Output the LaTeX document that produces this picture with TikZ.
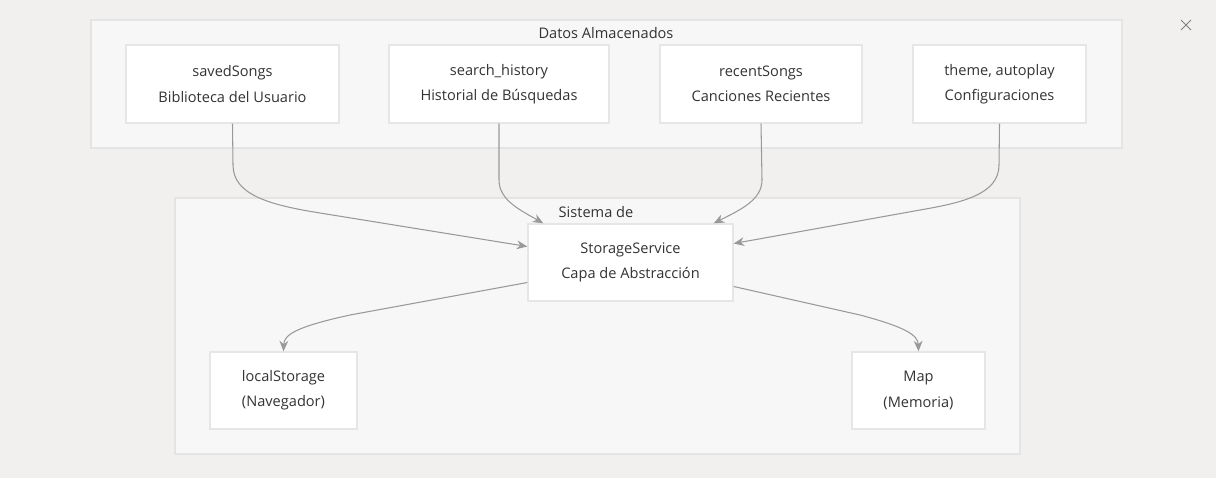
\documentclass[tikz,border=0pt]{standalone}
\usepackage{fontspec}
\setmainfont{Open Sans}
\usetikzlibrary{arrows.meta}

\definecolor{pagebg}{HTML}{F1F0EE}
\definecolor{clusterbg}{HTML}{F7F7F7}
\definecolor{clusterline}{HTML}{E4E4E4}
\definecolor{boxline}{HTML}{E6E6E6}
\definecolor{inkgray}{HTML}{333333}
\definecolor{linkgray}{HTML}{999999}

\tikzset{
  cluster/.style={fill=clusterbg,draw=clusterline,line width=0.8pt},
  store/.style={draw=boxline,fill=white,line width=0.8pt,align=center,
    text=inkgray,font=\fontsize{8.3pt}{14.4pt}\selectfont,inner sep=0pt},
  title/.style={text=inkgray,font=\fontsize{8.3pt}{10pt}\selectfont,inner sep=0pt},
  link/.style={draw=linkgray,line width=0.6pt,-{Stealth[length=6pt,width=5pt]}}
}

\begin{document}
\begin{tikzpicture}[x=0.02cm,y=-0.02cm]

          \fill[pagebg] (0,0) rectangle (1216,478);
          \useasboundingbox (0,0) rectangle (1216,478);

          % clusters
          \draw[cluster] (91,20) rectangle (1122,148);
          \draw[cluster] (175,198) rectangle (1020,454);
          \node[title] (t1) at (606,33)  {Datos Almacenados};
          \node[title] (t2) at (596,212) {Sistema de};

          \begin{scope}[every node/.style={store}]
            \node[minimum width=213*0.02cm,minimum height=78*0.02cm] (1) at (232.5,84)
              {savedSongs\\Biblioteca del Usuario};
            \node[minimum width=220*0.02cm,minimum height=78*0.02cm] (2) at (499,84)
              {search\_history\\Historial de Búsquedas};
            \node[minimum width=202*0.02cm,minimum height=78*0.02cm] (3) at (761,84)
              {recentSongs\\Canciones Recientes};
            \node[minimum width=173*0.02cm,minimum height=78*0.02cm] (4) at (999.5,84)
              {theme, autoplay\\Configuraciones};
            \node[minimum width=205*0.02cm,minimum height=77*0.02cm] (5) at (630.5,262.5)
              {StorageService\\Capa de Abstracción};
            \node[minimum width=147*0.02cm,minimum height=77*0.02cm] (6) at (283.5,390.5)
              {localStorage\\(Navegador)};
            \node[minimum width=133*0.02cm,minimum height=77*0.02cm] (7) at (918.5,390.5)
              {Map\\(Memoria)};
          \end{scope}

          % links
          \draw[link] (1.south) -- (233,165) .. controls (233,195) and (270,205) .. (320,213)
            -- ([yshift=16*0.02cm]5.west);
          \draw[link] (2.south) -- (499,180) .. controls (499,200) and (520,210) .. ([xshift=16*0.02cm]5.north west);
          \draw[link] (3.south) -- (762,180) .. controls (762,200) and (740,210) .. ([xshift=-20*0.02cm]5.north east);
          \draw[link] (4.south) -- (999,165) .. controls (999,195) and (960,203) .. (920,210)
            -- ([yshift=19*0.02cm]5.east);
          \draw[link] ([yshift=-20*0.02cm]5.west) -- (350,315) .. controls (295,327) and (284,335) .. (6.north);
          \draw[link] ([yshift=-24*0.02cm]5.east) -- (860,315) .. controls (905,327) and (918,335) .. (7.north);

          % close mark
          \coordinate (xa) at (1181,20);
          \coordinate (xb) at (1191,30);
          \draw[draw=gray,line width=0.5pt] (xa) -- (xb) (xa |- xb) -- (xb |- xa);

        \end{tikzpicture}
\end{document}
